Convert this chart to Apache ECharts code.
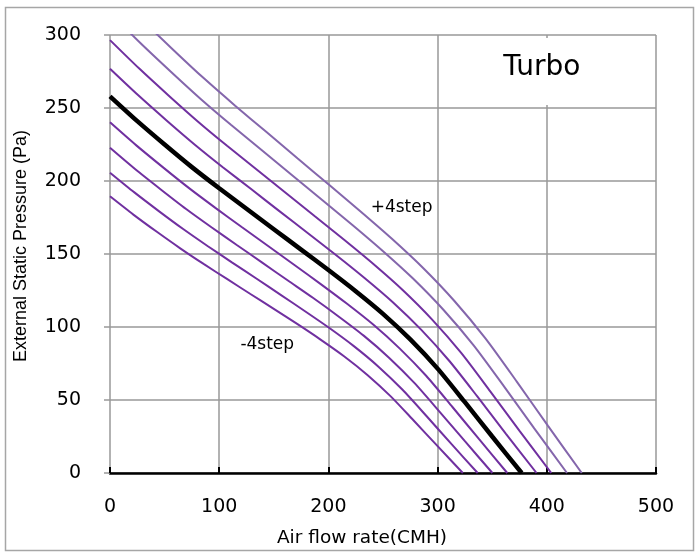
<!DOCTYPE html>
<html><head><meta charset="utf-8">
<script src="https://cdn.jsdelivr.net/npm/echarts@6/dist/echarts.min.js"></script>
<style>html,body{margin:0;padding:0;background:#fff}#c{width:699px;height:555px}</style>
</head><body><div id="c"></div>
<script>
// Axis ranges / ticks
const xTicks = [0, 100, 200, 300, 400, 500];
const yTicks = [0, 50, 100, 150, 200, 250, 300];

// Curve data [air flow CMH, pressure Pa]
const stepMinus4 = [[0,189.5],[21.4,177.0],[42.9,165.2],[64.3,153.9],[85.7,143.2],[107.1,132.9],[128.6,122.6],[150.0,112.4],[171.4,102.1],[192.8,91.4],[214.3,80.0],[235.7,67.2],[257.1,52.5],[278.5,35.6],[300.0,18.4],[323.1,0]];
const stepMinus3 = [[0,205.7],[22.3,192.2],[44.7,179.4],[67.0,167.1],[89.3,155.5],[111.6,144.3],[134.0,133.2],[156.3,122.0],[178.6,110.8],[200.9,99.3],[223.3,86.9],[245.6,73.0],[267.9,57.0],[290.2,38.7],[312.6,19.9],[336.7,0]];
const stepMinus2 = [[0,222.7],[23.2,208.0],[46.5,194.2],[69.7,180.8],[92.9,168.3],[116.1,156.2],[139.4,144.1],[162.6,132.0],[185.8,120.0],[209.0,107.4],[232.3,94.1],[255.5,79.0],[278.7,61.7],[301.9,41.9],[325.2,21.6],[350.2,0]];
const stepMinus1 = [[0,240.2],[24.1,224.4],[48.3,209.5],[72.4,195.1],[96.5,181.6],[120.6,168.5],[144.8,155.5],[168.9,142.5],[193.0,129.4],[217.1,115.9],[241.3,101.5],[265.4,85.2],[289.5,66.6],[313.6,45.2],[337.8,23.3],[363.8,0]];
const stepBase   = [[0,258],[25,241],[50,225],[75,209.5],[100,195],[125,181],[150,167],[175,153],[200,139],[225,124.5],[250,109],[275,91.5],[300,71.5],[325,48.5],[350,25],[377,0]];
const stepPlus1  = [[0,276.9],[25.9,258.7],[51.8,241.5],[77.7,224.9],[103.6,209.3],[129.5,194.3],[155.4,179.2],[181.3,164.2],[207.2,149.2],[233.1,133.6],[259.0,117.0],[284.9,98.2],[310.8,76.7],[336.7,52.1],[362.6,26.8],[390.6,0]];
const stepPlus2  = [[0,296.5],[26.8,277.0],[53.6,258.6],[80.4,240.8],[107.2,224.1],[134.0,208.0],[160.8,191.9],[187.6,175.8],[214.4,159.7],[241.2,143.1],[268.0,125.3],[294.8,105.2],[321.6,82.2],[348.4,55.7],[375.2,28.7],[404.1,0]];
const stepPlus3  = [[0,315.3],[27.8,294.5],[55.5,275.0],[83.3,256.0],[111.0,238.3],[138.8,221.2],[166.5,204.1],[194.3,187.0],[222.0,169.9],[249.8,152.1],[277.5,133.2],[305.3,111.8],[333.0,87.4],[360.8,59.3],[388.5,30.6],[418.5,0]];
const stepPlus4  = [[0,332.8],[28.7,310.9],[57.3,290.3],[86.0,270.3],[114.6,251.6],[143.3,233.5],[171.9,215.4],[200.6,197.4],[229.2,179.3],[257.9,160.6],[286.5,140.6],[315.2,118.0],[343.8,92.2],[372.5,62.6],[401.1,32.3],[432.0,0]];

const curveNames = ['-4','-3','-2','-1','0','+1','+2','+3','+4'];
const curveData = [stepMinus4, stepMinus3, stepMinus2, stepMinus1, stepBase, stepPlus1, stepPlus2, stepPlus3, stepPlus4];
const curveColors = ['#7030A0','#7030A0','#7030A0','#7030A0','#000000','#7030A0','#7030A0','#8466AC','#8466AC'];
const curveWidths = [2,2,2,2,4.5,2,2,2,2];

const annotLabels = [{name:'+4step', coord:[267,182]}, {name:'-4step', coord:[144,88]}];
const boxTitle = 'Turbo';

const WIDE = 'DejaVu Sans';
const NARROW = 'Liberation Sans';
const chart = echarts.init(document.getElementById('c'));

const series = curveData.map((d, i) => ({
  type: 'line',
  name: curveNames[i],
  data: d,
  smooth: 0.25,
  symbol: 'none',
  clip: true,
  z: i === 4 ? 5 : 3,
  lineStyle: { color: curveColors[i], width: curveWidths[i] }
}));

series[4].markArea = {
  silent: true,
  itemStyle: { color: '#ffffff', opacity: 1 },
  label: { show: true, position: 'inside', fontFamily: WIDE, fontSize: 28, color: '#000', offset: [-5, -4] },
  data: [[{ coord: [302, 298], name: boxTitle }, { coord: [498, 252] }]]
};
series[4].markPoint = {
  silent: true,
  symbol: 'circle',
  symbolSize: 0,
  label: { show: true, position: 'inside', formatter: '{b}', fontFamily: WIDE, fontSize: 17, color: '#000' },
  data: annotLabels.map(a => ({ name: a.name, coord: a.coord }))
};

chart.setOption({
  animation: false,
  backgroundColor: '#fff',
  grid: { left: 110, right: 43, top: 35, bottom: 82 },
  graphic: [{
    type: 'rect', silent: true, z: -1,
    shape: { x: 5.5, y: 7.5, width: 688, height: 543 },
    style: { fill: 'none', stroke: '#a6a6a6', lineWidth: 1.5 }
  }],
  xAxis: {
    type: 'value', min: xTicks[0], max: xTicks[xTicks.length - 1], interval: 100,
    name: 'Air flow rate(CMH)', nameLocation: 'middle', nameGap: 56,
    nameTextStyle: { fontFamily: WIDE, fontSize: 18.5, color: '#000', padding: [0, 42, 0, 0] },
    axisLine: { show: true, onZero: false, lineStyle: { color: '#000', width: 2.5 } },
    axisTick: { show: true, inside: true, length: 6, lineStyle: { color: '#000', width: 2 } },
    axisLabel: { fontFamily: WIDE, fontSize: 19, color: '#000', margin: 25 },
    splitLine: { show: true, lineStyle: { color: '#999', width: 1.5 } }
  },
  yAxis: {
    type: 'value', min: yTicks[0], max: yTicks[yTicks.length - 1], interval: 50,
    name: 'External Static Pressure (Pa)', nameLocation: 'middle', nameGap: 80,
    nameTextStyle: { fontFamily: NARROW, fontSize: 18, color: '#000', padding: [0, 0, 0, 16] },
    axisLine: { show: false },
    axisTick: { show: true, length: 6, lineStyle: { color: '#999', width: 1.5 } },
    axisLabel: { fontFamily: WIDE, fontSize: 19, color: '#000', margin: 29 },
    splitLine: { show: true, lineStyle: { color: '#999', width: 1.5 } }
  },
  series: series
});
</script>
</body></html>
